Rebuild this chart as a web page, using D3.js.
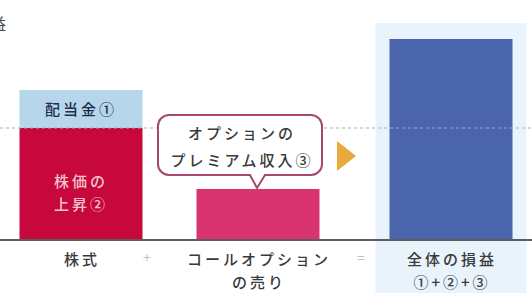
<!DOCTYPE html>
<html>
<head>
<meta charset="utf-8">
<script src="https://cdn.jsdelivr.net/npm/d3@7"></script>
<style>
body { margin: 0; background: #fff; }
svg { display: block; font-family: "Noto Sans CJK JP", sans-serif; }
</style>
</head>
<body>
<script>
// categories and values (arbitrary profit units)
var categories = ['株式', 'コールオプション', '全体の損益'];
var dividend = [19, 0, 0];        // ① 配当金
var priceGain = [56, 0, 0];       // ② 株価の上昇
var premium = [0, 25.5, 0];       // ③ プレミアム収入
var total = [0, 0, 100.5];        // ①+②+③
var xLabels = [['株式'], ['コールオプション', 'の売り'], ['全体の損益', '①+②+③']];
var operators = ['+', '='];

var W = 532, H = 293;

var svg = d3.select('body').append('svg')
    .attr('width', W)
    .attr('height', H);

var x = d3.scaleOrdinal()
    .domain(categories)
    .range([81, 258, 451]);
var bw = 123;

var y = d3.scaleLinear()
    .domain([0, 100])
    .range([240, 40]);

// light background behind the total column
svg.append('rect')
    .attr('x', x(categories[2]) - bw / 2 - 14)
    .attr('y', 23)
    .attr('width', bw + 28)
    .attr('height', H - 23)
    .attr('fill', '#e8f3fb');

// cut off y axis title
svg.append('text')
    .attr('x', 6).attr('y', 30)
    .attr('text-anchor', 'end')
    .attr('font-size', 16)
    .attr('fill', '#444')
    .text('損益');

// stacked pieces
var stacks = categories.map(function(c, i) {
    return {cat: c, parts: [
        {key: 'gain', v0: 0, v1: priceGain[i], color: '#c7083c'},
        {key: 'div', v0: priceGain[i], v1: priceGain[i] + dividend[i], color: '#b6d6ec'},
        {key: 'prem', v0: 0, v1: premium[i], color: '#d9346f'},
        {key: 'total', v0: 0, v1: total[i], color: '#4a65ab'}
    ].filter(function(p) { return p.v1 > p.v0; })};
});

var groups = svg.selectAll('g.bar')
    .data(stacks)
  .enter().append('g')
    .attr('class', 'bar');

groups.selectAll('rect')
    .data(function(d) { return d.parts.map(function(p) { p.cat = d.cat; return p; }); })
  .enter().append('rect')
    .attr('x', function(d) { return x(d.cat) - bw / 2; })
    .attr('y', function(d) { return y(d.v1); })
    .attr('width', bw)
    .attr('height', function(d) { return y(d.v0) - y(d.v1); })
    .attr('fill', function(d) { return d.color; });

// text inside stock bar
var c0 = x(categories[0]);
svg.append('text')
    .attr('x', c0).attr('y', y(priceGain[0] + dividend[0] / 2) + 6)
    .attr('text-anchor', 'middle')
    .attr('font-size', 15).attr('font-weight', 500)
    .attr('letter-spacing', 3)
    .attr('fill', '#1e2d4d')
    .text('配当金①');

svg.selectAll('text.gain')
    .data(['株価の', '上昇②'])
  .enter().append('text')
    .attr('class', 'gain')
    .attr('x', c0)
    .attr('y', function(d, i) { return y(priceGain[0] / 2) + 3 + i * 23; })
    .attr('text-anchor', 'middle')
    .attr('font-size', 15).attr('font-weight', 500)
    .attr('letter-spacing', 3)
    .attr('fill', '#f3c3cf')
    .text(function(d) { return d; });

// dashed reference line at the stock price gain level
svg.append('line')
    .attr('x1', 0).attr('x2', W)
    .attr('y1', y(priceGain[0])).attr('y2', y(priceGain[0]))
    .attr('stroke', '#a9a9b3')
    .attr('stroke-width', 1.2)
    .attr('stroke-dasharray', '3,3');

// axis baseline
svg.append('line')
    .attr('x1', 0).attr('x2', W)
    .attr('y1', y(0)).attr('y2', y(0))
    .attr('stroke', '#5d5d5d')
    .attr('stroke-width', 2);

// callout bubble
var c1 = x(categories[1]);
var bx0 = 158, bx1 = 322, by0 = 115, by1 = 175, r = 11;
var tip = [c1 - 1, y(premium[1]) - 1];
var bubble = d3.path();
bubble.moveTo(bx0 + r, by0);
bubble.lineTo(bx1 - r, by0);
bubble.arcTo(bx1, by0, bx1, by0 + r, r);
bubble.lineTo(bx1, by1 - r);
bubble.arcTo(bx1, by1, bx1 - r, by1, r);
bubble.lineTo(tip[0] + 8, by1);
bubble.lineTo(tip[0], tip[1]);
bubble.lineTo(tip[0] - 7, by1);
bubble.lineTo(bx0 + r, by1);
bubble.arcTo(bx0, by1, bx0, by1 - r, r);
bubble.lineTo(bx0, by0 + r);
bubble.arcTo(bx0, by0, bx0 + r, by0, r);
bubble.closePath();
svg.append('path')
    .attr('d', bubble.toString())
    .attr('fill', '#fff')
    .attr('stroke', '#a9466f')
    .attr('stroke-width', 2);

svg.selectAll('text.bubble')
    .data(['オプションの', 'プレミアム収入③'])
  .enter().append('text')
    .attr('class', 'bubble')
    .attr('x', (bx0 + bx1) / 2 + 2)
    .attr('y', function(d, i) { return 139 + i * 27; })
    .attr('text-anchor', 'middle')
    .attr('font-size', 15).attr('font-weight', 500)
    .attr('letter-spacing', 3)
    .attr('fill', '#3a3a3a')
    .text(function(d) { return d; });

// orange arrow
svg.append('path')
    .attr('d', 'M337,141 L356,156 L337,171 Z')
    .attr('fill', '#e9a93c');

// category labels
svg.selectAll('g.xlab')
    .data(xLabels)
  .enter().append('g')
    .attr('class', 'xlab')
    .each(function(lines, i) {
        d3.select(this).selectAll('text')
            .data(lines)
          .enter().append('text')
            .attr('x', x(categories[i]) + 1)
            .attr('y', function(d, j) { return 265 + j * 23; })
            .attr('text-anchor', 'middle')
            .attr('font-size', 15).attr('font-weight', 500)
            .attr('letter-spacing', 3)
            .attr('fill', '#3a3a3a')
            .text(function(d) { return d; });
    });

// operators between columns
svg.selectAll('text.op')
    .data(operators)
  .enter().append('text')
    .attr('class', 'op')
    .attr('x', function(d, i) { return i === 0 ? 147 : 361; })
    .attr('y', 263)
    .attr('text-anchor', 'middle')
    .attr('font-size', 14)
    .attr('fill', '#c4c4c4')
    .text(function(d) { return d; });
</script>
</body>
</html>
